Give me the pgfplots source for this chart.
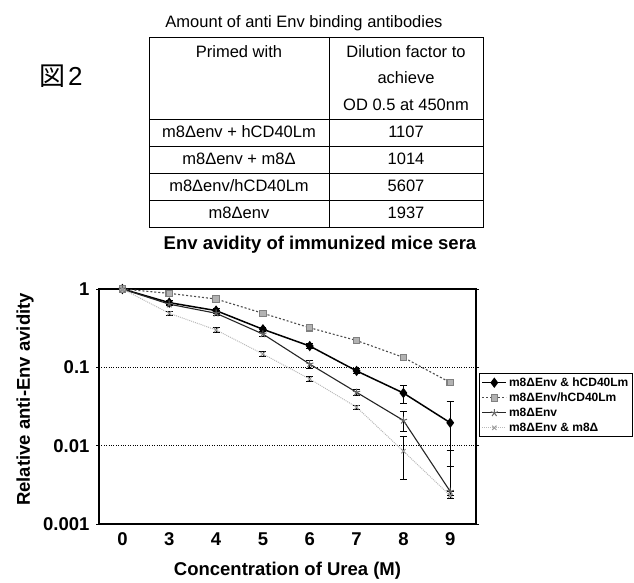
\documentclass[border=0pt]{standalone}
\usepackage{fontspec}
\setmainfont{Liberation Sans}
\newfontfamily\cjk{Noto Sans CJK JP}
\usepackage{pgfplots}
\pgfplotsset{compat=1.18}
\newcommand{\fs}[1]{\fontsize{#1}{#1}\selectfont}

\begin{document}
\begin{tikzpicture}[x=1pt,y=1pt]
\useasboundingbox (0,0) rectangle (634,582);
% figure number and table
\node[anchor=west, inner sep=0] at (39,506) {{\cjk\fs{26}図}\hspace{3pt}\fs{26}2};
\node[inner sep=0] at (304,559) {\fs{16.5}Amount of anti Env binding antibodies};
\draw[line width=0.9pt] (149,545) rectangle (483,355);
\draw[line width=0.9pt] (329,545) -- (329,355);
\foreach \y in {463,436,409,382} \draw[line width=0.9pt] (149,\y) -- (483,\y);
\node[inner sep=0] at (239,530) {\fs{16.5}Primed with};
\node[inner sep=0] at (406,530) {\fs{16.5}Dilution factor to};
\node[inner sep=0] at (406,504) {\fs{16.5}achieve};
\node[inner sep=0] at (406,477) {\fs{16.5}OD 0.5 at 450nm};
\node[inner sep=0] at (239,450) {\fs{16.5}m8Δenv + hCD40Lm};
\node[inner sep=0] at (406,450) {\fs{16.5}1107};
\node[inner sep=0] at (239,423) {\fs{16.5}m8Δenv + m8Δ};
\node[inner sep=0] at (406,423) {\fs{16.5}1014};
\node[inner sep=0] at (239,396) {\fs{16.5}m8Δenv/hCD40Lm};
\node[inner sep=0] at (406,396) {\fs{16.5}5607};
\node[inner sep=0] at (239,369) {\fs{16.5}m8Δenv};
\node[inner sep=0] at (406,369) {\fs{16.5}1937};
\node[inner sep=0] at (320,337) {\fs{18.5}\bfseries Env avidity of immunized mice sera};

\begin{axis}[
  at={(99pt,58pt)}, anchor=south west, scale only axis, width=377pt, height=235pt,
  ymode=log, ymin=0.001, ymax=1,
  xmin=-0.5, xmax=7.55,
  xtick={0,1,2,3,4,5,6,7}, xticklabels={0,3,4,5,6,7,8,9},
  ytick={0.001,0.01,0.1,1}, yticklabels={0.001,0.01,0.1,1},
  minor ytick={}, yminorticks=false,
  tick align=outside, major tick length=3pt, tick style={black, line width=0.6pt},
  xtick style={draw=none},
  ymajorgrids, grid style={black, dotted, line width=0.7pt},
  axis line style={line width=1.6pt},
  ticklabel style={font=\fs{18.5}\bfseries, /pgf/number format/assume math mode=true},
  yticklabel style={xshift=-3pt},
  xticklabel style={yshift=-2pt},
  xlabel={Concentration of Urea (M)},
  xlabel style={font=\fs{18.5}\bfseries, at={(axis description cs:0.5,0)}, anchor=center, yshift=-47pt},
  ylabel={Relative anti-Env avidity},
  ylabel style={font=\fs{18.5}\bfseries, at={(axis description cs:-0.196,0.53)}, anchor=center},
  clip=false,
  legend style={at={(axis description cs:1.4164,0.6426)}, anchor=north east, draw=black, line width=1.2pt,
    font=\fs{12}\bfseries, inner sep=2pt, row sep=1pt, cells={anchor=west}},
  legend cell align=left,
  legend image code/.code={\draw[mark repeat=2, mark phase=2] plot coordinates {(0pt,0pt) (12pt,0pt) (24pt,0pt)};},
  error bars/y dir=both, error bars/y explicit,
  error bars/error bar style={black, line width=0.8pt, solid},
  error bars/error mark options={rotate=90, mark size=3.5pt, black, line width=0.8pt},
]
\addplot[black, line width=1.5pt, mark=diamond*, mark size=4pt, mark options={solid, fill=black}]
  coordinates {(0,1) +- (0,0) (1,0.67) +- (0,0.04) (2,0.53) +- (0,0.04) (3,0.306) +- (0,0.02)
    (4,0.187) +- (0,0.014) (5,0.090) +- (0,0.007) (6,0.047) +- (0,0.012) (7,0.0196) +- (0,0.017)};
\addlegendentry{m8ΔEnv \& hCD40Lm}
\addplot[black!70, line width=1.1pt, dash pattern=on 2pt off 2pt, mark=square*, mark size=3.2pt,
    mark options={solid, fill=gray!60, draw=gray}]
  coordinates {(0,1) +- (0,0) (1,0.88) +- (0,0.05) (2,0.745) +- (0,0.05) (3,0.49) +- (0,0.035)
    (4,0.32) +- (0,0.025) (5,0.22) +- (0,0.02) (6,0.134) +- (0,0.01) (7,0.064) +- (0,0.005)};
\addlegendentry{m8ΔEnv/hCD40Lm}
\addplot[black!85, line width=1.1pt, mark=star, mark size=3.8pt, mark options={solid, draw=gray!80!black, line width=1pt}]
  coordinates {(0,1) +- (0,0) (1,0.64) +- (0,0.03) (2,0.49) +- (0,0.03) (3,0.266) +- (0,0.02)
    (4,0.11) +- (0,0.012) (5,0.048) +- (0,0.004) (6,0.021) +- (0,0.006) (7,0.0026) += (0,0.0029) -= (0,0.0003)};
\addlegendentry{m8ΔEnv}
\addplot[gray!55, line width=1pt, densely dotted, mark=x, mark size=3pt, mark options={solid, draw=gray!80}]
  coordinates {(0,1) +- (0,0) (1,0.49) +- (0,0.03) (2,0.30) +- (0,0.02) (3,0.148) +- (0,0.01)
    (4,0.071) +- (0,0.005) (5,0.031) +- (0,0.002) (6,0.0085) +- (0,0.0048) (7,0.0023) += (0,0.0063) -= (0,0.0002)};
\addlegendentry{m8ΔEnv \& m8Δ}
\end{axis}
\end{tikzpicture}
\end{document}
